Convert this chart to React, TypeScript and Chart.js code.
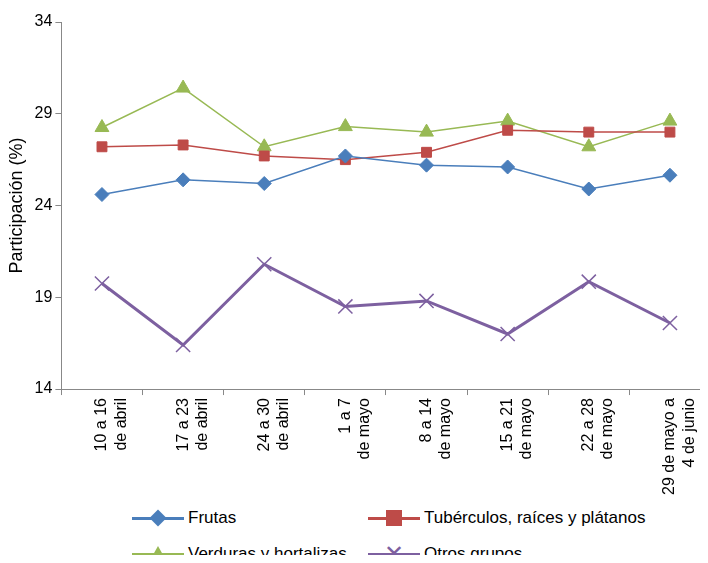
import { useEffect, useRef } from "react"
import Chart from "chart.js/auto"

const categories = [
  ["10 a 16", "de abril"],
  ["17 a 23", "de abril"],
  ["24 a 30", "de abril"],
  ["1 a 7", "de mayo"],
  ["8 a 14", "de mayo"],
  ["15 a 21", "de mayo"],
  ["22 a 28", "de mayo"],
  ["29 de mayo a", "4 de junio"],
]
const frutas = [24.6, 25.4, 25.2, 26.7, 26.2, 26.1, 24.9, 25.65]
const tuberculos = [27.2, 27.3, 26.7, 26.5, 26.9, 28.1, 28.0, 28.0]
const verduras = [28.25, 30.4, 27.2, 28.3, 28.0, 28.6, 27.2, 28.6]
const otros = [19.75, 16.4, 20.8, 18.5, 18.8, 17.0, 19.85, 17.6]
const yTicks = [14, 19, 24, 29, 34]

const series = [
  { label: "Frutas", data: frutas, color: "#4a7ebb", style: "rectRot", width: 1.5, r: 7 },
  { label: "Tubérculos, raíces y plátanos", data: tuberculos, color: "#be4b48", style: "rect", width: 1.5, r: 7 },
  { label: "Verduras y hortalizas", data: verduras, color: "#98b954", style: "triangle", width: 1.5, r: 8 },
  { label: "Otros grupos", data: otros, color: "#7d60a0", style: "crossRot", width: 3, r: 10 },
]

const font = "'Liberation Sans', Arial, sans-serif"

function LegendItem({ s }: { s: (typeof series)[number] }) {
  const marker =
    s.style === "rectRot" ? (
      <div style={{ width: 12, height: 12, background: s.color, transform: "rotate(45deg)" }} />
    ) : s.style === "rect" ? (
      <div style={{ width: 16, height: 16, background: s.color }} />
    ) : s.style === "triangle" ? (
      <div style={{ width: 0, height: 0, borderLeft: "9px solid transparent", borderRight: "9px solid transparent", borderBottom: `16px solid ${s.color}` }} />
    ) : (
      <div style={{ color: s.color, fontSize: 24, lineHeight: "14px" }}>✕</div>
    )
  return (
    <div style={{ display: "flex", alignItems: "center", fontSize: 17, whiteSpace: "nowrap" }}>
      <div style={{ position: "relative", width: 52, height: 18, marginRight: 4 }}>
        <div style={{ position: "absolute", left: 0, right: 0, top: 8, height: s.width + 1, background: s.color }} />
        <div style={{ position: "absolute", left: 0, right: 0, top: 0, bottom: 0, display: "flex", alignItems: "center", justifyContent: "center" }}>{marker}</div>
      </div>
      {s.label}
    </div>
  )
}

export default function App() {
  const ref = useRef<HTMLCanvasElement>(null)

  useEffect(() => {
    if (!ref.current) return
    const chart = new Chart(ref.current, {
      type: "line",
      data: {
        labels: categories,
        datasets: series.map((s) => ({
          label: s.label,
          data: s.data,
          borderColor: s.color,
          backgroundColor: s.color,
          borderWidth: s.width,
          pointStyle: s.style as any,
          pointRadius: s.r,
          pointBorderWidth: s.style === "crossRot" ? 1.5 : 1,
          tension: 0,
        })),
      },
      options: {
        animation: false,
        responsive: false,
        layout: { padding: { top: 22, left: 2, right: 0 } },
        plugins: { legend: { display: false }, tooltip: { enabled: false } },
        scales: {
          x: {
            offset: true,
            grid: { offset: true, drawOnChartArea: false, color: "#888", tickLength: 6 },
            border: { color: "#888" },
            ticks: { minRotation: 90, maxRotation: 90, color: "#000", font: { family: font, size: 16 } },
          },
          y: {
            min: 14,
            max: 34,
            afterBuildTicks: (axis) => {
              axis.ticks = yTicks.map((v) => ({ value: v }))
            },
            grid: { drawOnChartArea: false, color: "#888", tickLength: 6 },
            border: { color: "#888" },
            ticks: { color: "#000", font: { family: font, size: 16 } },
            title: { display: true, text: "Participación (%)", color: "#000", font: { family: font, size: 18 } },
          },
        },
      },
    })
    return () => chart.destroy()
  }, [])

  return (
    <div style={{ margin: -8, width: 708, height: 563, background: "#fff", fontFamily: font, overflow: "hidden" }}>
      <canvas ref={ref} width={722} height={498} />
      <div style={{ display: "grid", gridTemplateColumns: "236px 340px", marginLeft: 132, rowGap: 16, marginTop: 10 }}>
        {series.map((s) => (
          <LegendItem key={s.label} s={s} />
        ))}
      </div>
    </div>
  )
}
